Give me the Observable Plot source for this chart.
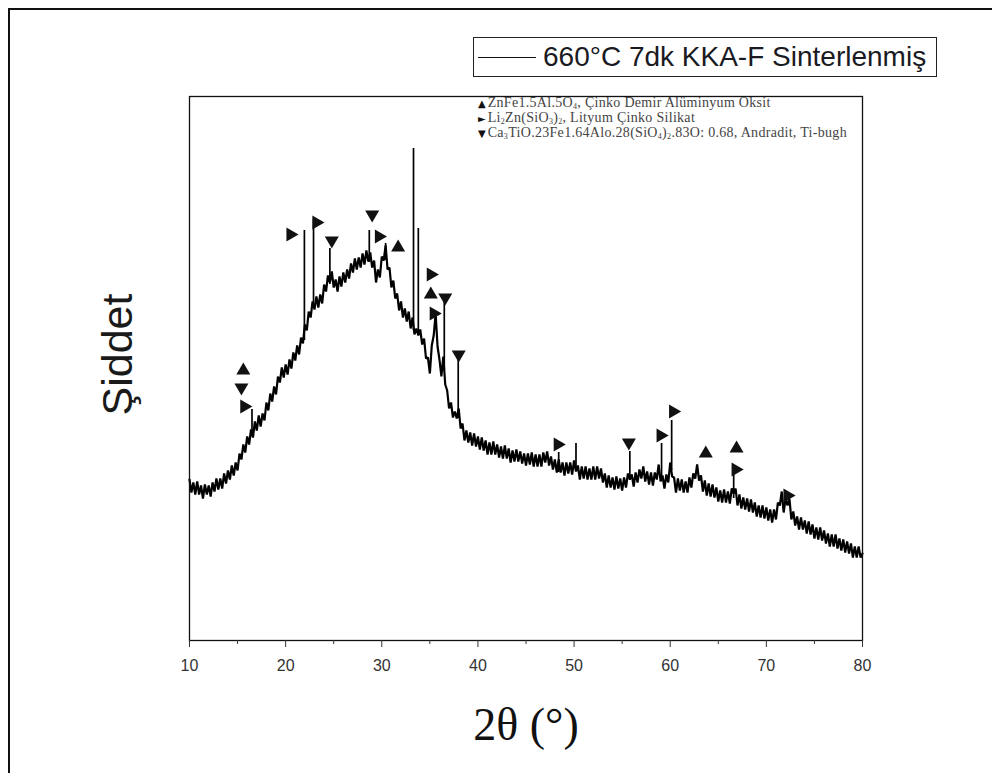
<!DOCTYPE html>
<html><head><meta charset="utf-8">
<script src="https://cdn.jsdelivr.net/npm/d3@7"></script>
<script src="https://cdn.jsdelivr.net/npm/@observablehq/plot@0.6"></script>
<style>
html,body{margin:0;padding:0;background:#fff;overflow:hidden;}
#wrap{position:relative;width:992px;height:773px;overflow:hidden;background:#fff;}
#chart{position:absolute;left:0;top:0;}
#outer{position:absolute;left:8px;top:8px;width:1000px;height:800px;border-top:2px solid #111;border-left:2px solid #111;}
#key{position:absolute;left:473px;top:37px;width:462px;height:38px;border:1.5px solid #222;background:#fff;font-family:"Liberation Sans",Arial,sans-serif;font-size:28px;color:#1a1a22;display:flex;align-items:center;white-space:nowrap;}
#key .ln{display:inline-block;width:58px;border-top:1.6px solid #111;margin:0 7px 0 4px;}
#phases{position:absolute;left:478px;top:96px;font-family:"Liberation Serif","Times New Roman",serif;font-size:14px;letter-spacing:0.3px;color:#444;line-height:14px;white-space:nowrap;}
#phases .s{font-family:"DejaVu Sans",sans-serif;font-size:10px;color:#111;margin-right:2px;letter-spacing:0;}
#phases sub{font-size:8px;vertical-align:-2px;line-height:0;}
</style>
</head><body>
<div id="wrap">
  <div id="outer"></div>
  <div id="chart"></div>
  <div id="key"><span class="ln"></span><span>660°C 7dk KKA-F Sinterlenmiş</span></div>
  <div id="phases">
    <div><span class="s">▲</span>ZnFe1.5Al.5O<sub>4</sub>, Çinko Demir Alüminyum Oksit</div>
    <div><span class="s">►</span>Li<sub>2</sub>Zn(SiO<sub>3</sub>)<sub>2</sub>, Lityum Çinko Silikat</div>
    <div><span class="s">▼</span>Ca<sub>3</sub>TiO.23Fe1.64Alo.28(SiO<sub>4</sub>)<sub>2</sub>.83O: 0.68, Andradit, Ti-bugh</div>
  </div>
</div>
<script>
// x grid of the scan: 10° to 80°, step 0.2°
const scanStart = 10, scanStep = 0.2;
// intensity (a.u.) at each grid step
const intensity = [
161,148,158,146,159,146,155,142,156,146,
155,144,158,149,162,151,162,152,167,157,
170,161,175,165,178,170,187,181,196,188,
204,196,211,203,219,210,225,214,227,220,
238,230,247,239,254,246,264,258,273,263,
276,266,281,272,288,280,295,286,303,297,
316,310,329,323,339,331,344,333,346,337,
356,349,365,358,369,353,361,349,364,354,
368,358,371,362,377,368,382,371,383,373,
387,376,390,379,388,373,380,358,371,363,
384,380,395,371,373,353,360,342,347,330,
339,323,332,319,329,312,323,306,312,305,
311,296,302,282,283,267,295,305,327,294,
281,264,284,256,250,232,238,223,229,222,
232,212,217,200,210,198,208,195,207,194,
204,191,203,190,200,186,198,186,199,186,
196,183,194,182,195,182,192,178,190,179,
191,179,189,177,187,175,187,176,188,174,
186,174,186,174,188,178,189,175,184,171,
181,168,181,168,178,165,178,167,178,166,
180,169,175,161,174,162,174,161,172,161,
174,161,174,162,172,158,167,153,165,153,
163,151,164,152,162,150,163,153,167,161,
166,154,168,158,171,162,174,159,169,156,
168,155,168,161,176,159,165,152,166,158,
178,164,163,148,162,150,161,148,159,148,
163,153,167,162,176,160,165,149,160,145,
157,144,156,143,153,139,150,138,151,138,
149,137,152,147,152,135,146,132,143,131,
142,129,141,128,138,124,135,123,135,122,
133,120,131,118,131,121,138,135,149,128,
142,135,142,121,129,115,124,111,123,111,
120,107,119,106,116,102,113,101,113,100,
110,97,107,94,106,94,106,92,102,90,
101,88,99,87,97,83,94,83,94,83,
87
];
// sharp reflections: angle, foot and top intensity
const peakAngle = [16.5, 21.95, 22.9, 24.6, 28.7, 30.4, 33.3, 33.8, 36.5, 37.95, 48.4, 50.2, 55.8, 59.1, 60.15, 66.6];
const peakBase  = [205, 300, 332, 356, 378, 380, 310, 305, 270, 222, 168, 170, 160, 160, 170, 142];
const peakTop   = [231, 410, 421, 392, 410, 397, 492, 412, 343, 287, 188, 197, 189, 197, 220, 166];
// phase markers
const znFeAngle = [15.6, 31.7, 35.1, 63.7, 66.9];
const znFeLevel = [270, 393, 346, 187, 192];
const liZnAngle = [15.7, 20.5, 23.2, 29.7, 35.1, 35.4, 48.3, 59.0, 60.3, 66.8, 72.2];
const liZnLevel = [234, 406, 418, 404, 366, 327, 196, 205, 229, 171, 145];
const caTiAngle = [15.4, 24.8, 29.0, 36.6, 38.0, 55.7];
const caTiLevel = [253, 400, 426, 343, 286, 198];
// axis ticks
const majorTicks = [10, 20, 30, 40, 50, 60, 70, 80];
const minorTicks = [15, 25, 35, 45, 55, 65, 75];
const xTitle = "2θ (°)";
const yTitle = "Şiddet";

const pattern = intensity.map((v, i) => ({x: +(scanStart + i * scanStep).toFixed(2), y: v}));
const peaks = peakAngle.map((a, i) => ({x: a, y1: peakBase[i], y2: peakTop[i]}));
const pts = (A, L) => A.map((a, i) => ({x: a, y: L[i]}));

const chart = Plot.plot({
  width: 992, height: 773,
  marginLeft: 189, marginRight: 130, marginTop: 96, marginBottom: 133,
  style: {background: "transparent", color: "#222"},
  x: {domain: [10, 80], label: null},
  y: {domain: [0, 544], axis: null},
  marks: [
    Plot.line(pattern, {x: "x", y: "y", stroke: "#000", strokeWidth: 2.2, strokeLinejoin: "miter"}),
    Plot.ruleX(peaks, {x: "x", y1: "y1", y2: "y2", stroke: "#000", strokeWidth: 1.7}),
    Plot.dot(pts(znFeAngle, znFeLevel), {x: "x", y: "y", symbol: "triangle", r: 5.2, fill: "#111", stroke: "none"}),
    Plot.dot(pts(liZnAngle, liZnLevel), {x: "x", y: "y", symbol: "triangle", r: 5.2, fill: "#111", stroke: "none", rotate: 90}),
    Plot.dot(pts(caTiAngle, caTiLevel), {x: "x", y: "y", symbol: "triangle", r: 5.2, fill: "#111", stroke: "none", rotate: 180}),
    Plot.frame({stroke: "#111", strokeWidth: 1.3}),
    Plot.axisX({ticks: majorTicks, tickSize: 7, tickPadding: 12, fontSize: 16, fontFamily: "Liberation Sans, Arial, sans-serif", tickFormat: d => String(d), label: null, color: "#333"}),
    Plot.axisX({ticks: minorTicks, tickSize: 4, tickFormat: () => "", label: null, color: "#333"}),
    Plot.text([yTitle], {frameAnchor: "left", dx: -71, dy: -14, rotate: -90, textAnchor: "middle", lineAnchor: "middle", fontSize: 43, fontFamily: "Liberation Sans, Arial, sans-serif", fill: "#1a1a1a"}),
    Plot.text([xTitle], {frameAnchor: "bottom", dy: 85, textAnchor: "middle", lineAnchor: "middle", fontSize: 46, fontFamily: "Liberation Serif, Times New Roman, serif", fill: "#111"})
  ]
});
document.getElementById("chart").appendChild(chart);
</script>
</body></html>
